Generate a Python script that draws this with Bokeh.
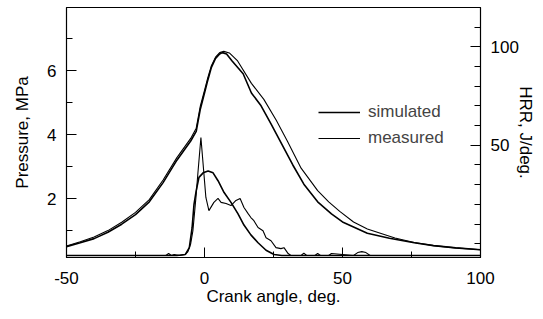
from bokeh.plotting import figure
from bokeh.models import Range1d, LinearAxis, FixedTicker, Legend, LegendItem
from bokeh.embed import file_html
from bokeh.resources import INLINE

# ---- data ----
theta_p_sim = [-50, -45, -40, -35, -30, -25, -20, -15, -10, -5, -3, -1.5, 0, 1.2, 2.5, 4, 5.5, 6.5,
               8, 10, 14, 17, 20.5, 24, 28, 32, 36, 41, 46, 50, 59, 67, 76, 83, 91, 100]
p_sim = [0.5, 0.62, 0.75, 0.95, 1.2, 1.5, 1.9, 2.5, 3.2, 3.8, 4.1, 4.8, 5.3, 5.7, 6.1, 6.38, 6.52, 6.56,
         6.52, 6.3, 5.9, 5.3, 4.9, 4.35, 3.7, 3.05, 2.45, 1.9, 1.52, 1.27, 0.92, 0.76, 0.62, 0.53, 0.46, 0.4]

theta_p_meas = [-50, -45, -40, -35, -30, -25, -20, -15, -10, -5, -3, -1.5, 0, 1.2, 2.5, 4, 5.5, 7,
                9, 12, 17, 21.5, 26, 30, 35, 41, 45, 49, 54, 59, 69, 76, 83, 91, 100]
p_meas = [0.52, 0.65, 0.8, 1.0, 1.26, 1.57, 1.97, 2.58, 3.28, 3.88, 4.2, 4.9, 5.38, 5.78, 6.15, 6.42, 6.56, 6.6,
          6.55, 6.3, 5.6, 5.1, 4.45, 3.8, 2.95, 2.25, 1.9, 1.6, 1.27, 1.05, 0.77, 0.63, 0.53, 0.46, 0.4]

theta_h_sim = [-50, -10, -7, -5.5, -4.5, -3.8, -3, -2, -0.5, 1.3, 3.1, 4.9, 7.1, 9.6, 12.1, 14.3, 16.8,
               19.4, 22.3, 25.2, 28, 100]
hrr_sim = [-6, -6, -5.5, -2, 8, 20, 27, 33.7, 36, 37, 36, 32, 26, 21, 15.3, 9.5, 4.5,
           0.5, -3.3, -5.5, -6, -6]

theta_h_meas = [-50, -14, -13, -12, -11, -9, -7, -6, -5, -4.2, -3.1, -2.4, -1.3, 0.5, 1.6, 3.4, 4.9, 6,
                7.8, 9.6, 11.4, 12.9, 14.3, 15.8, 16.8, 17.9, 19.4, 21.2, 22.3, 24.1, 25.9, 27.7,
                28.8, 30.3, 31.3, 35, 36, 37, 40, 41, 42, 45, 46, 54, 55.5, 57, 58.5, 60, 100]
hrr_meas = [-6, -6, -5, -6, -5.5, -6, -5.5, -4, 0, 6.6, 23.5, 35.7, 54, 23.5, 16.8, 21, 23, 21,
            20.4, 19.4, 22, 23, 18.4, 15.3, 13.3, 11.7, 8.2, 6.6, 3, 1.5, -2, -2.5,
            -2, -5, -6, -6, -4.8, -6, -6, -5, -6, -6, -5, -6, -4.5, -4, -4.5, -6, -6]

x_ticks = [-50, 0, 50, 100]
x_tick_labels = ["-50", "0", "50", "100"]
p_ticks = [2, 4, 6]
hrr_ticks = [50, 100]

FONT = "Liberation Sans"
FS = "17px"

p = figure(width=543, height=319, output_backend="svg", toolbar_location=None,
           x_range=Range1d(-50, 100), y_range=Range1d(0.16, 7.97),
           min_border_left=66, min_border_right=63, min_border_top=7, min_border_bottom=62)
p.grid.visible = False
p.outline_line_color = "black"
p.outline_line_width = 1.2
p.background_fill_color = "white"
p.border_fill_color = "white"

p.extra_y_ranges = {"hrr": Range1d(-7, 120)}
right = LinearAxis(y_range_name="hrr", axis_label="HRR, J/deg.")
p.add_layout(right, "right")

p.xaxis.ticker = FixedTicker(ticks=x_ticks, minor_ticks=[-25, 25, 75])
p.xaxis.major_label_overrides = dict(zip(x_ticks, x_tick_labels))
p.yaxis[0].ticker = FixedTicker(ticks=p_ticks, minor_ticks=[1, 3, 5, 7])
right.ticker = FixedTicker(ticks=hrr_ticks, minor_ticks=[0, 10, 20, 30, 40, 60, 70, 80, 90, 110])

p.xaxis.axis_label = "Crank angle, deg."
p.yaxis[0].axis_label = "Pressure, MPa"

for ax in [p.xaxis[0], p.yaxis[0], right]:
    ax.major_tick_in = 10
    ax.major_tick_out = 0
    ax.minor_tick_in = 6
    ax.minor_tick_out = 0
    ax.axis_line_color = "black"
    ax.major_tick_line_color = "black"
    ax.minor_tick_line_color = "black"
    ax.major_label_text_font = FONT
    ax.major_label_text_font_size = FS
    ax.major_label_text_color = "black"
    ax.axis_label_text_font = FONT
    ax.axis_label_text_font_size = FS
    ax.axis_label_text_font_style = "normal"
    ax.axis_label_text_color = "black"
    ax.major_label_standoff = 10

p.xaxis[0].major_label_standoff = 14
p.xaxis[0].axis_label_standoff = 0
p.yaxis[0].axis_label_standoff = 12
right.axis_label_standoff = -6
right.axis_label_orientation = "vertical"

r_sim = p.line(theta_p_sim, p_sim, line_color="black", line_width=1.6)
r_meas = p.line(theta_p_meas, p_meas, line_color="black", line_width=1.1)
p.line(theta_h_sim, hrr_sim, y_range_name="hrr", line_color="black", line_width=1.6)
p.line(theta_h_meas, hrr_meas, y_range_name="hrr", line_color="black", line_width=1.1)

legend = Legend(items=[LegendItem(label="simulated", renderers=[r_sim]),
                       LegendItem(label="measured", renderers=[r_meas])],
                location=(252, 109), padding=0, margin=0, spacing=6,
                glyph_width=42, glyph_height=20, label_height=20, label_standoff=8,
                label_text_font=FONT, label_text_font_size=FS,
                border_line_color=None, background_fill_alpha=0)
p.add_layout(legend)

open("out.html", "w").write(file_html(p, INLINE))
